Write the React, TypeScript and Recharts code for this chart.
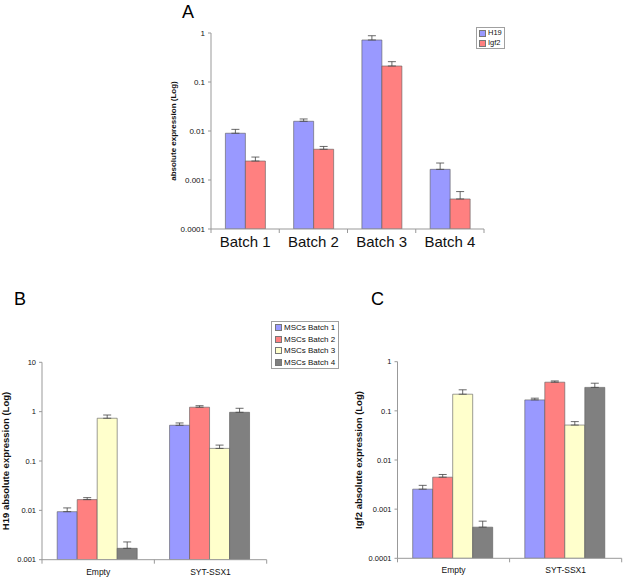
import { BarChart, Bar, XAxis, YAxis, ErrorBar, Legend } from 'recharts'

const FONT = '"Liberation Sans", Arial, sans-serif'

// panel A: absolute expression per MSC batch
const batches = ['Batch 1', 'Batch 2', 'Batch 3', 'Batch 4']
const h19 = [0.009, 0.0158, 0.72, 0.00165]
const h19Err = [0.0018, 0.0018, 0.16, 0.00057]
const igf2 = [0.00244, 0.00424, 0.212, 0.00041]
const igf2Err = [0.0005, 0.0006, 0.048, 0.00017]
const ticksA = [0.0001, 0.001, 0.01, 0.1, 1]

// panels B and C: Empty vs SYT-SSX1, one list per batch
const vectors = ['Empty', 'SYT-SSX1']
const mscNames = ['MSCs Batch 1', 'MSCs Batch 2', 'MSCs Batch 3', 'MSCs Batch 4']
const batchColors = ['#9999FF', '#FF8080', '#FFFFCC', '#808080']

const h19ByBatch = [
  [0.0094, 0.53],
  [0.0165, 1.23],
  [0.735, 0.18],
  [0.0017, 0.97],
]
const h19ErrByBatch = [
  [0.0018, 0.06],
  [0.0016, 0.09],
  [0.12, 0.03],
  [0.00059, 0.2],
]
const igf2ByBatch = [
  [0.00255, 0.167],
  [0.00447, 0.383],
  [0.218, 0.0514],
  [0.00043, 0.3],
]
const igf2ErrByBatch = [
  [0.0005, 0.014],
  [0.0006, 0.023],
  [0.05, 0.009],
  [0.00014, 0.065],
]
const ticksB = [0.001, 0.01, 0.1, 1, 10]
const ticksC = [0.0001, 0.001, 0.01, 0.1, 1]

const dataA = batches.map((name, i) => ({
  name,
  h19: h19[i],
  igf2: igf2[i],
  h19Err: [0, h19Err[i]],
  igf2Err: [0, igf2Err[i]],
}))

function vectorRows(values: number[][], errs: number[][]) {
  return vectors.map((name, i) => {
    const row: any = { name }
    values.forEach((v, b) => {
      row['b' + b] = v[i]
      row['e' + b] = [0, errs[b][i]]
    })
    return row
  })
}

const dataB = vectorRows(h19ByBatch, h19ErrByBatch)
const dataC = vectorRows(igf2ByBatch, igf2ErrByBatch)

const AXIS = '#999'
const BAR_STROKE = '#5a5a5a'

// category label plus Excel-style tick marks on the category boundaries
function CategoryTick(props: any) {
  const { x, y, payload, index, visibleTicksCount, fontSize, dy } = props
  const half = payload?.offset ?? 0
  return (
    <g>
      <line x1={x - half} x2={x - half} y1={y - 4} y2={y} stroke={AXIS} />
      {index === visibleTicksCount - 1 && (
        <line x1={x + half} x2={x + half} y1={y - 4} y2={y} stroke={AXIS} />
      )}
      <text x={x} y={y + dy} textAnchor="middle" fontSize={fontSize} fontFamily={FONT} fill="#111">
        {payload.value}
      </text>
    </g>
  )
}

function BoxLegend({ payload, fontSize, rowH, padX }: any) {
  return (
    <div
      style={{
        display: 'inline-block',
        border: '1px solid #a0a0a0',
        background: '#fff',
        padding: `0 ${padX}px`,
        fontFamily: FONT,
        fontSize,
        lineHeight: rowH + 'px',
        color: '#111',
      }}
    >
      {(payload || []).map((p: any) => (
        <div key={p.value} style={{ display: 'flex', alignItems: 'center', whiteSpace: 'nowrap', color: '#111' }}>
          <span
            style={{
              display: 'inline-block',
              flexShrink: 0,
              width: 5,
              height: 5,
              background: p.payload?.fill || p.color,
              border: '1px solid #777',
              marginRight: 2,
            }}
          />
          <span>{p.value}</span>
        </div>
      ))}
    </div>
  )
}

const tickStyle = (size: number) => ({ fontSize: size, fill: '#111', fontFamily: FONT })

function PanelA() {
  return (
    <BarChart
      width={624}
      height={290}
      data={dataA}
      margin={{ top: 33, right: 140, bottom: 31, left: 166 }}
      barCategoryGap={14.4}
      barGap={0}
    >
      <XAxis
        dataKey="name"
        height={30}
        stroke={AXIS}
        tickLine={false}
        tickSize={4}
        tickMargin={0}
        interval={0}
        tick={<CategoryTick fontSize={15} dy={13.5} />}
      />
      <YAxis
        scale="log"
        type="number"
        domain={[0.0001, 1]}
        allowDataOverflow
        ticks={ticksA}
        interval={0}
        width={45}
        stroke={AXIS}
        tickSize={3}
        tickMargin={3}
        tick={tickStyle(8)}
        label={{
          value: 'absolute expression (Log)',
          angle: -90,
          position: 'insideLeft',
          offset: 7,
          style: { textAnchor: 'middle', fontSize: 8, fontWeight: 'bold', fill: '#111', fontFamily: FONT },
        }}
      />
      <Legend
        layout="vertical"
        align="center"
        verticalAlign="middle"
        wrapperStyle={{ left: 476, top: 27, width: 'auto' }}
        content={<BoxLegend fontSize={7.5} rowH={10} padX={2} />}
      />
      <Bar dataKey="h19" name="H19" fill="#9999FF" stroke={BAR_STROKE} strokeWidth={0.6} isAnimationActive={false}>
        <ErrorBar dataKey="h19Err" direction="y" width={4} stroke="#444" strokeWidth={0.8} />
      </Bar>
      <Bar dataKey="igf2" name="Igf2" fill="#FF8080" stroke={BAR_STROKE} strokeWidth={0.6} isAnimationActive={false}>
        <ErrorBar dataKey="igf2Err" direction="y" width={4} stroke="#444" strokeWidth={0.8} />
      </Bar>
    </BarChart>
  )
}

function VectorPanel({
  data,
  width,
  margin,
  yWidth,
  ticks,
  domain,
  label,
  labelOffset,
  legend,
}: any) {
  return (
    <BarChart width={width} height={295} data={data} margin={margin} barCategoryGap={15.2} barGap={0}>
      <XAxis
        dataKey="name"
        height={18}
        stroke={AXIS}
        tickLine={false}
        tickSize={4}
        tickMargin={0}
        interval={0}
        tick={<CategoryTick fontSize={8.5} dy={11} />}
      />
      <YAxis
        scale="log"
        type="number"
        domain={domain}
        allowDataOverflow
        ticks={ticks}
        interval={0}
        width={yWidth}
        stroke={AXIS}
        tickSize={3}
        tickMargin={3}
        tick={tickStyle(7.5)}
        label={{
          value: label,
          angle: -90,
          position: 'insideLeft',
          offset: labelOffset,
          style: { textAnchor: 'middle', fontSize: 9.5, fontWeight: 'bold', fill: '#111', fontFamily: FONT },
        }}
      />
      {legend && (
        <Legend
          layout="vertical"
          align="center"
          verticalAlign="middle"
          wrapperStyle={{ left: 271, top: 36, width: 'auto' }}
          content={<BoxLegend fontSize={8} rowH={11.5} padX={3} />}
        />
      )}
      {mscNames.map((name, b) => (
        <Bar
          key={name}
          dataKey={'b' + b}
          name={name}
          fill={batchColors[b]}
          stroke={BAR_STROKE}
          strokeWidth={0.6}
          isAnimationActive={false}
        >
          <ErrorBar dataKey={'e' + b} direction="y" width={4} stroke="#444" strokeWidth={0.8} />
        </Bar>
      ))}
    </BarChart>
  )
}

export default function App() {
  return (
    <div style={{ position: 'absolute', left: 0, top: 0, width: 624, height: 580, background: '#fff' }}>
      <div style={{ position: 'absolute', left: 0, top: 0 }}>
        <PanelA />
      </div>
      <div style={{ position: 'absolute', left: 0, top: 285 }}>
        <VectorPanel
          data={dataB}
          width={360}
          margin={{ top: 77.3, right: 93.3, bottom: 2.3, left: 0 }}
          yWidth={42}
          ticks={ticksB}
          domain={[0.001, 10]}
          label="H19 absolute expression (Log)"
          labelOffset={5.5}
          legend
        />
      </div>
      <div style={{ position: 'absolute', left: 312, top: 285 }}>
        <VectorPanel
          data={dataC}
          width={312}
          margin={{ top: 76.7, right: 2.3, bottom: 3.7, left: 0 }}
          yWidth={85.5}
          ticks={ticksC}
          domain={[0.0001, 1]}
          label="Igf2 absolute expression (Log)"
          labelOffset={47}
        />
      </div>
      <svg
        width={624}
        height={580}
        style={{ position: 'absolute', left: 0, top: 0, pointerEvents: 'none' }}
        fontFamily={FONT}
      >
        <text x={182} y={18} fontSize={18} fill="#000">A</text>
        <text x={14} y={305} fontSize={18} fill="#000">B</text>
        <text x={371} y={305} fontSize={18} fill="#000">C</text>
      </svg>
    </div>
  )
}
